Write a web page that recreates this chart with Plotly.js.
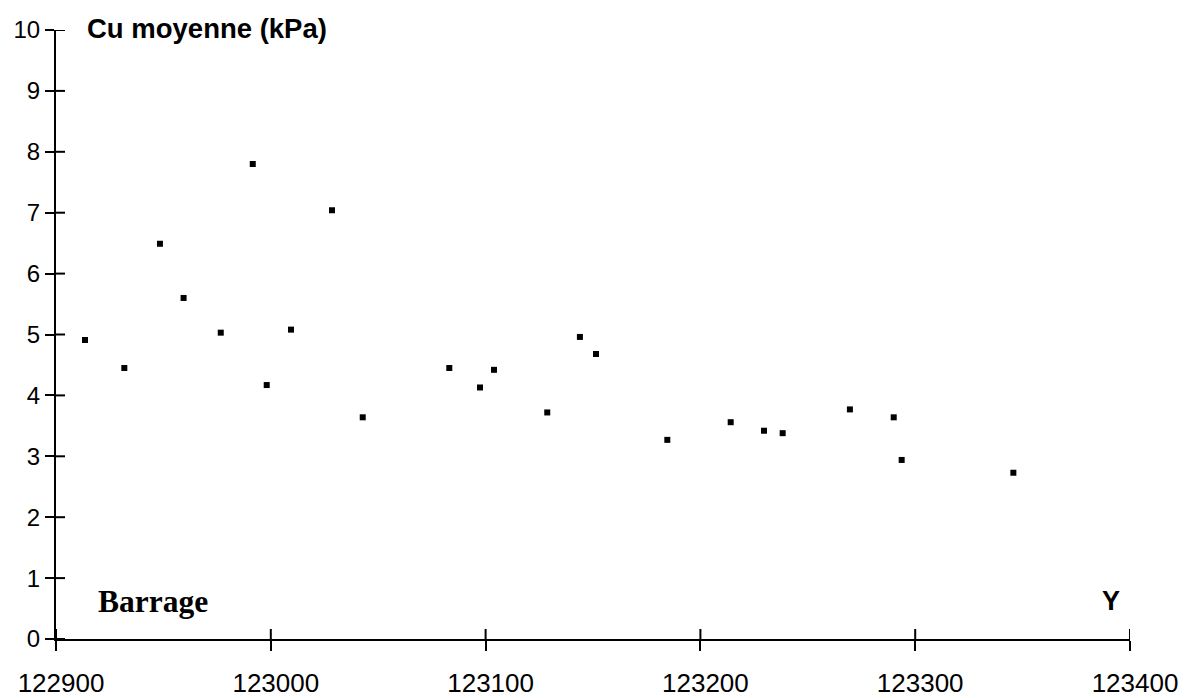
<!DOCTYPE html>
<html>
<head>
<meta charset="utf-8">
<script src="https://cdn.plot.ly/plotly-3.0.1.min.js"></script>
<style>html,body{margin:0;padding:0;background:#fff;}#chart{width:1188px;height:698px;}</style>
</head>
<body>
<div id="chart"></div>
<script>
// Distance Y (m) and mean undrained shear strength Cu (kPa)
var positionY = [122913.5, 122931.8, 122948.4, 122959.4, 122976.7, 122991.6, 122998.1, 123009.4, 123028.5, 123042.8,
                 123083.1, 123097.4, 123103.9, 123128.7, 123143.9, 123151.4, 123184.6, 123214.1, 123229.6, 123238.3,
                 123269.6, 123290.0, 123293.7, 123345.7];
var cuMoyenne = [4.91, 4.45, 6.49, 5.60, 5.03, 7.80, 4.17, 5.08, 7.04, 3.64,
                 4.45, 4.13, 4.42, 3.72, 4.96, 4.68, 3.27, 3.56, 3.42, 3.38,
                 3.77, 3.64, 2.94, 2.73];
var xTickVals = [122900, 123000, 123100, 123200, 123300, 123400];
var yTickVals = [0, 1, 2, 3, 4, 5, 6, 7, 8, 9, 10];
var xRange = [122900, 123400];
var yRange = [0, 10];
var yAxisTitle = "Cu moyenne (kPa)";
var xAxisTitle = "Y";
var sideLabel = "Barrage";

var sans = "Liberation Sans, Arial, Helvetica, sans-serif";
var serif = "Liberation Serif, Times New Roman, serif";

var W = 1188, H = 698;
var margin = {l: 56, r: 58, t: 30, b: 59};
var plotW = W - margin.l - margin.r;

var traces = [
  {
    type: "scatter", mode: "markers",
    x: positionY, y: cuMoyenne,
    marker: {symbol: "square", size: 6, color: "#000"},
    hoverinfo: "x+y", showlegend: false
  }
];

// inner halves of the crossing tick marks (outer halves come from the axes)
var tickShapes = [];
xTickVals.forEach(function (v) {
  tickShapes.push({
    type: "line", xref: "x", yref: "y", ysizemode: "pixel", yanchor: yRange[0],
    x0: v, x1: v, y0: 0, y1: 10,
    line: {color: "#000", width: 2}
  });
});
var innerLenX = 9 * (xRange[1] - xRange[0]) / plotW; // 9 px expressed in x units
yTickVals.forEach(function (v) {
  tickShapes.push({
    type: "line", xref: "x", yref: "y",
    x0: xRange[0], x1: xRange[0] + innerLenX, y0: v, y1: v,
    line: {color: "#000", width: 2}
  });
});

var layout = {
  width: W, height: H,
  margin: margin,
  paper_bgcolor: "#fff", plot_bgcolor: "#fff",
  showlegend: false,
  font: {family: sans, color: "#000"},
  xaxis: {
    range: xRange, tickmode: "array", tickvals: xTickVals, tickformat: "d",
    showgrid: false, zeroline: false,
    showline: true, linecolor: "#000", linewidth: 2,
    ticks: "outside", ticklen: 10, tickwidth: 2, tickcolor: "#000",
    ticklabelstandoff: 10, ticklabelshift: 5,
    tickfont: {family: sans, size: 26, color: "#000"}
  },
  yaxis: {
    range: yRange, tickmode: "array", tickvals: yTickVals,
    showgrid: false, zeroline: false,
    showline: true, linecolor: "#000", linewidth: 2,
    ticks: "outside", ticklen: 9, tickwidth: 2, tickcolor: "#000",
    ticklabelstandoff: 0,
    tickfont: {family: sans, size: 24, color: "#000"}
  },
  shapes: tickShapes,
  annotations: [
    {
      text: "<b>" + yAxisTitle + "</b>", xref: "paper", yref: "paper",
      x: 0.027, y: 1.003, xanchor: "left", yanchor: "middle", showarrow: false,
      font: {family: sans, size: 27.5, color: "#000"}
    },
    {
      text: "<b>" + sideLabel + "</b>", xref: "paper", yref: "paper",
      x: 0.037, y: 0.062, xanchor: "left", yanchor: "middle", showarrow: false,
      font: {family: serif, size: 31.5, color: "#000"}
    },
    {
      text: "<b>" + xAxisTitle + "</b>", xref: "paper", yref: "paper",
      x: 0.982, y: 0.062, xanchor: "center", yanchor: "middle", showarrow: false,
      font: {family: sans, size: 27, color: "#000"}
    }
  ]
};

Plotly.newPlot("chart", traces, layout, {displayModeBar: false, staticPlot: true});
</script>
</body>
</html>
